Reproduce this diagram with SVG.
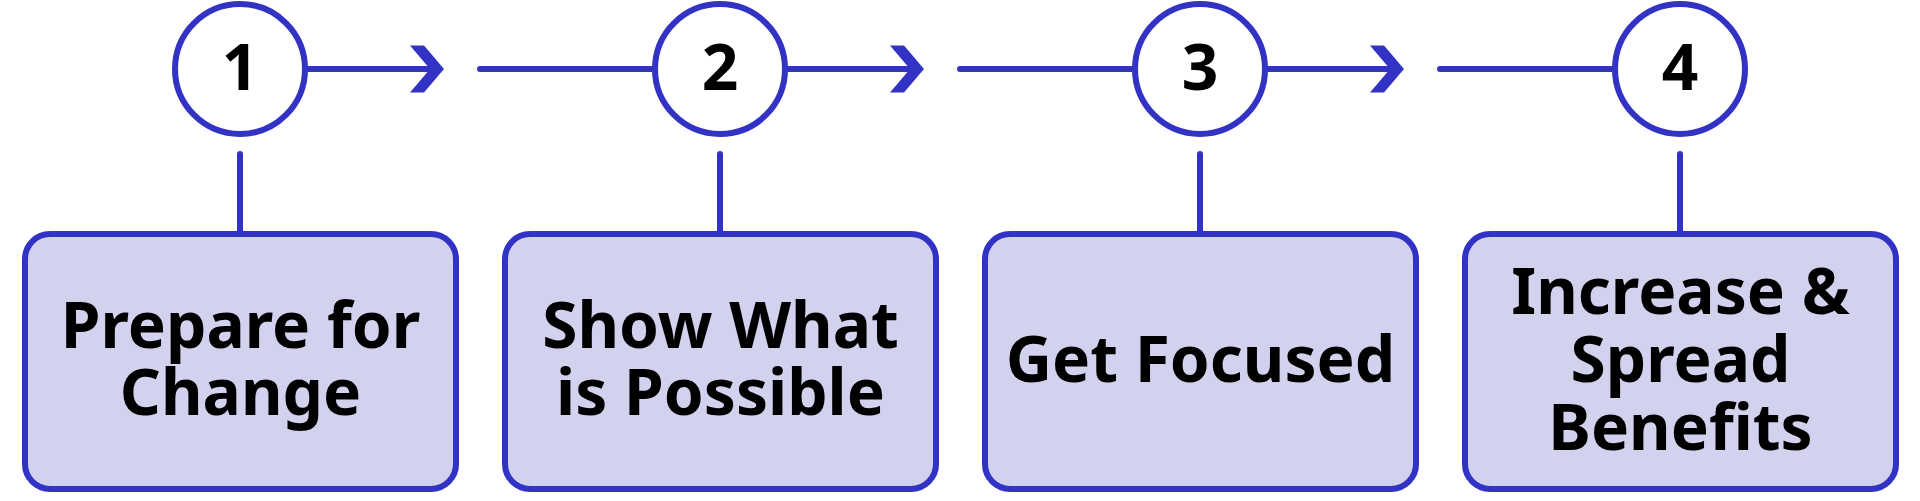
<svg xmlns="http://www.w3.org/2000/svg" width="1920" height="501" viewBox="0 0 1920 501">
<style>
.ln{stroke:#3232C4;stroke-width:6;fill:none;stroke-linecap:round}
.circ{fill:#FFFFFF;stroke:#3232C4;stroke-width:6}
.box{fill:#D2D2EE;stroke:#3232C4;stroke-width:6}
.num{font-family:"Noto Sans","DejaVu Sans",sans-serif;font-weight:bold;font-size:64px;fill:#000;text-anchor:middle}
.lbl{font-family:"Noto Sans","DejaVu Sans",sans-serif;font-weight:bold;font-size:64px;fill:#000;text-anchor:middle}
.chev{fill:#3232C4}
</style>
<defs>
<path id="chev" class="chev" d="M-34,-23.5 L-20,-23.5 L0,0 L-20,23.5 L-34,23.5 L-14,0 Z"/>
</defs>
<rect width="1920" height="501" fill="#FFFFFF"/>
<g id="connectors">
<line class="ln" x1="305" y1="69" x2="436" y2="69"/>
<use href="#chev" x="444" y="69"/>
<line class="ln" x1="480" y1="69" x2="655" y2="69"/>
<line class="ln" x1="785" y1="69" x2="916" y2="69"/>
<use href="#chev" x="924" y="69"/>
<line class="ln" x1="960" y1="69" x2="1135" y2="69"/>
<line class="ln" x1="1265" y1="69" x2="1396" y2="69"/>
<use href="#chev" x="1404" y="69"/>
<line class="ln" x1="1440" y1="69" x2="1615" y2="69"/>
<line class="ln" x1="240" y1="154" x2="240" y2="234"/>
<line class="ln" x1="720" y1="154" x2="720" y2="234"/>
<line class="ln" x1="1200" y1="154" x2="1200" y2="234"/>
<line class="ln" x1="1680" y1="154" x2="1680" y2="234"/>
</g>
<g id="step1">
<circle class="circ" cx="240" cy="69" r="65"/>
<text class="num" x="240" y="90">1</text>
</g>
<g id="step2">
<circle class="circ" cx="720" cy="69" r="65"/>
<text class="num" x="720" y="90">2</text>
</g>
<g id="step3">
<circle class="circ" cx="1200" cy="69" r="65"/>
<text class="num" x="1200" y="90">3</text>
</g>
<g id="step4">
<circle class="circ" cx="1680" cy="69" r="65"/>
<text class="num" x="1680" y="90">4</text>
</g>
<g id="box1">
<rect class="box" x="25" y="234" width="431" height="255" rx="25"/>
<text class="lbl" x="240.5" y="348">Prepare for</text>
<text class="lbl" x="240.5" y="415">Change</text>
</g>
<g id="box2">
<rect class="box" x="505" y="234" width="431" height="255" rx="25"/>
<text class="lbl" x="720.5" y="348">Show What</text>
<text class="lbl" x="720.5" y="415">is Possible</text>
</g>
<g id="box3">
<rect class="box" x="985" y="234" width="431" height="255" rx="25"/>
<text class="lbl" x="1200.5" y="382">Get Focused</text>
</g>
<g id="box4">
<rect class="box" x="1465" y="234" width="431" height="255" rx="25"/>
<text class="lbl" x="1680.5" y="314">Increase &amp;</text>
<text class="lbl" x="1680.5" y="382">Spread</text>
<text class="lbl" x="1680.5" y="450">Benefits</text>
</g>
</svg>
